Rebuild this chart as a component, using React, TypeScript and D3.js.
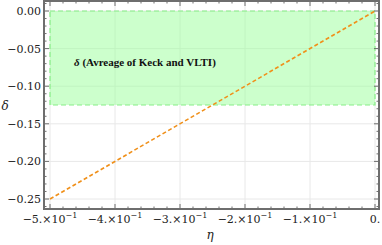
import React from "react";
import * as d3 from "d3";

const xMajor = [-0.5, -0.4, -0.3, -0.2, -0.1, 0];
const xMantissa = ["−5.", "−4.", "−3.", "−2.", "−1.", "0."];
const yMajor = [0, -0.05, -0.1, -0.15, -0.2, -0.25];
const yLabels = ["0.00", "−0.05", "−0.10", "−0.15", "−0.20", "−0.25"];
const etaVals = [-0.5, 0];
const deltaVals = [-0.25, 0];
const bandX = [-0.5, 0];
const bandY = [-0.125, 0];
const bandLabel = "δ (Avreage of Keck and VLTI)";

export default function App() {
  const W = 382, H = 245;
  const left = 44, right = 379, top = 1, bottom = 209;
  const x = d3.scaleLinear().domain([-0.5, 0]).range([50, 375]);
  const y = d3.scaleLinear().domain([-0.25, 0]).range([199, 11]);
  const xMinor = d3.range(-0.5, 0.0001, 0.02).filter(v => !xMajor.some(m => Math.abs(m - v) < 1e-6));
  const yMinor = d3.range(-0.26, 0.0101, 0.01).filter(v => !yMajor.some(m => Math.abs(m - v) < 1e-6));
  const line = d3.line<number>().x((_, i) => x(etaVals[i])).y((d) => y(d));
  const font = "'DejaVu Serif', serif";
  const frameCol = "#6e6e6e";
  return (
    <svg width={W} height={H} style={{ position: "absolute", left: 0, top: 0, background: "#fff" }}>
      {xMajor.map((v, i) => (
        <line key={"gx" + i} x1={x(v)} x2={x(v)} y1={top} y2={bottom} stroke="#e8e8e8" strokeWidth={1} />
      ))}
      {yMajor.map((v, i) => (
        <line key={"gy" + i} x1={left} x2={right} y1={y(v)} y2={y(v)} stroke="#e8e8e8" strokeWidth={1} />
      ))}
      <rect x={x(bandX[0])} y={y(bandY[1])} width={x(bandX[1]) - x(bandX[0])} height={y(bandY[0]) - y(bandY[1])}
        fill="#99ff99" fillOpacity={0.5} stroke="#88ee88" strokeWidth={1.2} strokeDasharray="5,3" />
      <text x={x(-0.354)} y={y(-0.0725)} textAnchor="middle" fontFamily="'Liberation Serif', serif" fontWeight="bold" fontSize={11} fill="#111">
        <tspan fontStyle="italic">δ</tspan>{bandLabel.slice(1)}
      </text>
      <path d={line(deltaVals) || ""} fill="none" stroke="#f0901a" strokeWidth={1.6} strokeDasharray="4,2.5" />
      <rect x={left} y={top} width={right - left} height={bottom - top} fill="none" stroke={frameCol} strokeWidth={2} />
      {xMajor.map((v, i) => (
        <g key={"xt" + i}>
          <line x1={x(v)} x2={x(v)} y1={bottom} y2={bottom - 5} stroke={frameCol} />
          <line x1={x(v)} x2={x(v)} y1={top} y2={top + 5} stroke={frameCol} />
          <text x={x(v)} y={bottom + 14} textAnchor="middle" fontFamily={font} fontSize={11} fill="#222">
            {i === xMajor.length - 1 ? xMantissa[i] : (
              <>
                {xMantissa[i]}×10<tspan dy={-5} fontSize={8}>−1</tspan>
              </>
            )}
          </text>
        </g>
      ))}
      {xMinor.map((v, i) => (
        <g key={"xm" + i}>
          <line x1={x(v)} x2={x(v)} y1={bottom} y2={bottom - 2.5} stroke={frameCol} />
          <line x1={x(v)} x2={x(v)} y1={top} y2={top + 2.5} stroke={frameCol} />
        </g>
      ))}
      {yMajor.map((v, i) => (
        <g key={"yt" + i}>
          <line x1={left} x2={left + 5} y1={y(v)} y2={y(v)} stroke={frameCol} />
          <line x1={right} x2={right - 5} y1={y(v)} y2={y(v)} stroke={frameCol} />
          <text x={left - 3} y={y(v) + 4} textAnchor="end" fontFamily={font} fontSize={11} fill="#222">{yLabels[i]}</text>
        </g>
      ))}
      {yMinor.map((v, i) => (
        <g key={"ym" + i}>
          <line x1={left} x2={left + 2.5} y1={y(v)} y2={y(v)} stroke={frameCol} />
          <line x1={right} x2={right - 2.5} y1={y(v)} y2={y(v)} stroke={frameCol} />
        </g>
      ))}
      <text x={5} y={110} textAnchor="middle" fontFamily={font} fontStyle="italic" fontSize={12} fill="#222">δ</text>
      <text x={210} y={239} textAnchor="middle" fontFamily={font} fontStyle="italic" fontSize={12} fill="#222">η</text>
    </svg>
  );
}
